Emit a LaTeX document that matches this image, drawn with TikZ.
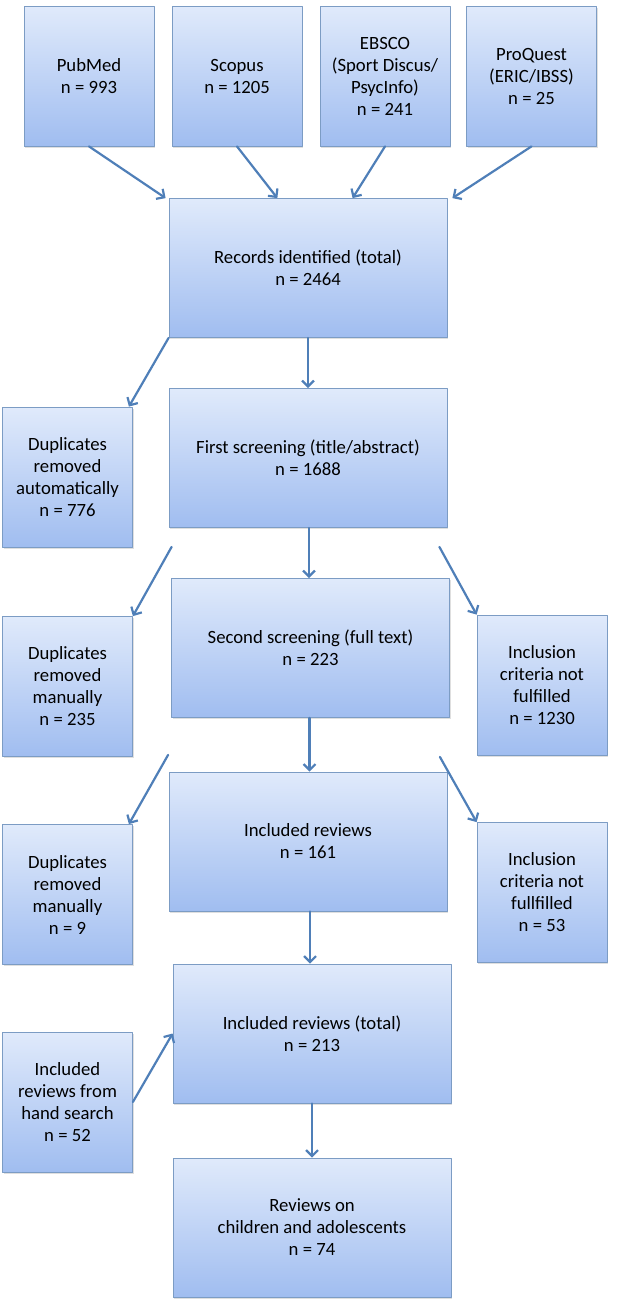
\documentclass[tikz,border=0pt]{standalone}
\usepackage{fontspec}
\setmainfont{Carlito}
\usetikzlibrary{arrows.meta, calc, shadows}
\definecolor{boxtop}{HTML}{E0EAFB}
\definecolor{boxbot}{HTML}{A0BDF0}
\definecolor{boxline}{HTML}{7C9CC4}
\definecolor{flowblue}{HTML}{4F7FB8}
\tikzset{
  >={Straight Barb[length=6pt, width=12pt]},
  every picture/.style={line cap=round, line join=round},
  % shaded box like the office flow chart
  box/.style={draw=boxline, line width=0.8pt, top color=boxtop, bottom color=boxbot,
    align=center, inner sep=0pt, font=\fontsize{18.7}{22}\selectfont,
    drop shadow={shadow xshift=1pt, shadow yshift=-1.5pt, opacity=0.25}},
  narrow/.style={box, minimum width=130pt, minimum height=140pt},
  wide/.style={box, minimum width=278pt, minimum height=139pt},
  flow/.style={->, draw=flowblue, line width=2.2pt},
}
\begin{document}
\begin{tikzpicture}[x=1pt, y=-1pt]
  \useasboundingbox (0,0) rectangle (617,1309);
  % sources
  \node[narrow] (pubmed)   at (89,76)    {PubMed\\n = 993};
  \node[narrow] (scopus)   at (237,76)   {Scopus\\n = 1205};
  \node[narrow] (ebsco)    at (385,76)   {EBSCO\\(Sport Discus/\\PsycInfo)\\n = 241};
  \node[narrow] (proquest) at (531.5,76) {ProQuest\\(ERIC/IBSS)\\n = 25};
  % main column
  \node[wide] (records)  at (308,268)    {Records identified (total)\\n = 2464};
  \node[wide] (first)    at (308,458)    {First screening (title/abstract)\\n = 1688};
  \node[wide] (second)   at (310.5,648)  {Second screening (full text)\\n = 223};
  \node[wide] (included) at (308,841.5)  {Included reviews\\n = 161};
  \node[wide] (total)    at (312,1033.5) {Included reviews (total)\\n = 213};
  \node[wide] (final)    at (312,1227.5) {Reviews on\\children and adolescents\\n = 74};
  % side boxes
  \node[narrow] (dupauto)   at (67.5,477)    {Duplicates\\removed\\automatically\\n = 776};
  \node[narrow] (dupman)    at (67.5,686.5)  {Duplicates\\removed\\manually\\n = 235};
  \node[narrow] (dupnine)   at (67.5,894.5)  {Duplicates\\removed\\manually\\n = 9};
  \node[narrow] (hand)      at (67.5,1102)   {Included\\reviews from\\hand search\\n = 52};
  \node[narrow] (exclfirst) at (542,685)     {Inclusion\\criteria not\\fulfilled\\n = 1230};
  \node[narrow] (exclsec)   at (542,892.5)   {Inclusion\\criteria not\\fullfilled\\n = 53};
  % connectors
  \draw[flow] (pubmed.south) -- ([xshift=-3pt]records.north west);
  \draw[flow] (scopus.south) -- ($(records.north west)!0.39!(records.north east)$);
  \draw[flow] (ebsco.south) -- ($(records.north west)!0.66!(records.north east)$);
  \draw[flow] (proquest.south) -- ([xshift=5pt]records.north east);
  \draw[flow] (records.south) -- (first.north);
  \draw[flow] (records.south west) -- ([xshift=-4pt]dupauto.north east);
  \draw[flow] ([xshift=1pt]first.south) -- ([xshift=1pt]first.south |- second.north);
  \draw[flow] ($(first.south west)+(3,19)$) -- (dupman.north east);
  \draw[flow] ($(first.south east)+(-8,19)$) -- (exclfirst.north west);
  \draw[flow] ([xshift=-1pt]second.south) -- ([xshift=-1pt]second.south |- included.north);
  \draw[flow] ($(second.south west)+(-3,37)$) -- ([xshift=-4pt]dupnine.north east);
  \draw[flow] ($(second.south east)+(-10,39)$) -- (exclsec.north west);
  \draw[flow] ([xshift=-2pt]included.south -| total.north) -- ([xshift=-2pt]total.north);
  \draw[flow] (hand.east) -- (total.west);
  \draw[flow] (total.south) -- (final.north);
\end{tikzpicture}
\end{document}
